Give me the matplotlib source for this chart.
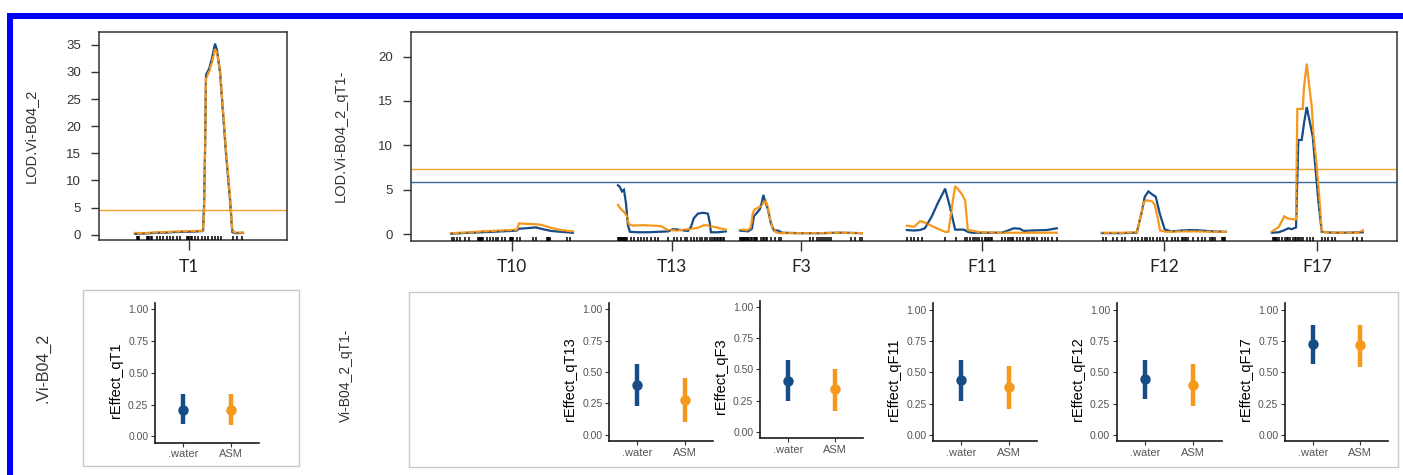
import matplotlib
matplotlib.use("Agg")
import matplotlib.pyplot as plt
from matplotlib.lines import Line2D
from matplotlib.patches import Rectangle
from matplotlib.transforms import blended_transform_factory

W, H = 1403, 475
plt.rcParams['font.family'] = ['Liberation Sans', 'DejaVu Sans']

BLUE = '#174d87'
ORANGE = '#f5981c'
BLUE_THR = '#3a6a98'
ORANGE_THR = '#f4a030'
FRAME = '#333333'

# ---------------- LOD scans (blue = .water, orange = ASM) ----------------
# Vi-B04_2, chromosome T1
t1_length = 108
t1_pos = [0, 10, 20, 30, 40, 50, 60, 68, 69, 70, 71, 74, 77, 80, 82, 85, 88, 91, 95, 97.3, 100, 108]
t1_lod_water = [0.2, 0.25, 0.35, 0.4, 0.5, 0.55, 0.6, 0.7, 5.0, 15.0, 29.5, 30.5, 32.5, 35.2, 34.0,
                30.0, 22.5, 15.0, 6.5, 0.5, 0.3, 0.35]
t1_lod_asm = [0.35, 0.3, 0.45, 0.5, 0.6, 0.65, 0.7, 0.75, 4.0, 15.0, 28.8, 30.0, 31.8, 34.2, 33.5,
              30.4, 23.0, 15.5, 7.0, 0.8, 0.4, 0.4]
t1_markers = [1.7, 2.5, 3.3, 4.3, 11.7, 13, 14.3, 15.5, 16.7, 21.7, 25, 28.3, 31.7, 35, 38.3, 41.7,
              45, 51.7, 53, 54.3, 55.5, 56.7, 60, 63.3, 66.7, 70, 73.3, 76.7, 80, 83.3, 85.7,
              98.3, 102.3, 106.7]
t1_threshold_asm = 4.6

# Vi-B04_2 given qT1, genome-wide scan
chroms = ['T10', 'T13', 'F3', 'F11', 'F12', 'F17']
chrom_len = [122, 108, 122, 150, 124, 91]

t10_pos_water = [0, 10, 20, 30, 40, 50, 60, 66, 68, 75, 85, 90, 100, 110, 122]
t10_lod_water = [0.05, 0.1, 0.15, 0.2, 0.25, 0.3, 0.35, 0.4, 0.6, 0.65, 0.75, 0.6, 0.35, 0.25, 0.15]
t10_pos_asm = [0, 10, 20, 30, 40, 50, 60, 66, 68, 75, 85, 90, 100, 110, 122]
t10_lod_asm = [0.1, 0.15, 0.2, 0.3, 0.35, 0.4, 0.45, 0.5, 1.2, 1.15, 1.1, 1.05, 0.7, 0.45, 0.3]
t10_markers = [1, 3.5, 6, 9, 14, 18.5, 27.5, 28.5, 29.5, 30.5, 31.5, 32.5, 36, 39, 42.5, 45, 47.5,
               51, 54, 59, 60, 61, 62.5, 66, 69, 82, 85, 96, 97, 98, 99, 116, 119]

t13_pos_water = [0, 2, 4, 6, 8, 10, 12, 20, 30, 40, 50, 55, 60, 70, 73, 76, 80, 85, 90, 92, 93, 100, 108]
t13_lod_water = [5.5, 5.3, 4.8, 5.0, 3.5, 1.0, 0.25, 0.2, 0.2, 0.25, 0.3, 0.55, 0.5, 0.35, 0.8,
                 1.8, 2.3, 2.4, 2.3, 1.2, 0.2, 0.2, 0.3]
t13_pos_asm = [0, 3, 6, 9, 11, 15, 25, 35, 43, 50, 60, 70, 80, 86, 91, 100, 108]
t13_lod_asm = [3.3, 2.8, 2.5, 2.0, 1.1, 0.95, 1.0, 0.95, 0.9, 0.45, 0.4, 0.55, 0.7, 1.0, 0.95, 0.7, 0.5]
t13_markers = [0, 1, 2, 3, 4, 5, 6, 7, 8, 9, 12.7, 16, 20, 22.7, 26, 28.7, 33.3, 36.7, 40, 50, 56,
               59.3, 62.7, 66.7, 69.3, 72.7, 76, 79.3, 82, 84.3, 86.7, 89.3, 92, 94.5, 96, 97.5,
               99, 100.5, 102, 103.5, 105, 106.5]

f3_pos_water = [0, 4, 8, 12, 14, 17, 20, 22, 23.5, 25, 28, 31, 34, 38, 42, 60, 80, 100, 122]
f3_lod_water = [0.4, 0.35, 0.3, 0.6, 2.0, 2.4, 2.8, 3.6, 4.4, 3.8, 2.8, 1.2, 0.4, 0.4, 0.15, 0.1,
                0.1, 0.15, 0.1]
f3_pos_asm = [0, 4, 8, 11, 13, 15, 19, 22, 24, 25.7, 27.5, 30, 33, 36, 40, 60, 80, 100, 122]
f3_lod_asm = [0.45, 0.5, 0.4, 0.8, 2.4, 2.8, 3.0, 3.3, 3.6, 3.8, 3.2, 1.8, 0.6, 0.2, 0.1, 0.1, 0.1,
              0.15, 0.1]
f3_markers = [0, 1, 2, 3, 4, 5, 6, 7, 8, 9, 10.7, 12.4, 14, 15, 16, 17.4, 20.7, 23.4, 24.5, 25.7,
              27.4, 30.7, 34.7, 39, 41.4, 70.6, 73, 77.3, 79.5, 81, 83, 85, 87, 89, 90.7, 111,
              115.4, 120, 122]

f11_pos_water = [0, 7, 13, 18, 25, 31, 38.3, 43, 48.3, 57, 61, 65, 80, 95, 100, 107, 113, 117, 125,
                 140, 150]
f11_lod_water = [0.45, 0.4, 0.45, 0.65, 2.0, 3.5, 5.1, 3.1, 0.5, 0.5, 0.25, 0.15, 0.15, 0.15, 0.35,
                 0.65, 0.6, 0.35, 0.4, 0.45, 0.65]
f11_pos_asm = [0, 7, 13.3, 18, 27, 33, 38.3, 41.6, 45, 48.3, 51.6, 55, 58.3, 61, 67, 73, 90, 120, 150]
f11_lod_asm = [0.95, 0.8, 1.45, 1.3, 0.8, 0.5, 0.25, 0.25, 3.0, 5.4, 5.0, 4.5, 3.8, 0.45, 0.35, 0.2,
               0.15, 0.15, 0.15]
f11_markers = [0.6, 4, 7.6, 11.6, 15.6, 38.3, 49.3, 58.3, 60.6, 63.3, 66, 68.3, 70, 72.3, 75, 78.3,
               79.5, 81, 82.5, 84, 85, 95, 98.3, 101.6, 103.3, 105, 106.6, 110, 113.3, 116.6, 120,
               122.3, 125, 127.3, 130, 135, 138.3, 141.6, 145, 150]

f12_pos_water = [0, 20, 35, 40, 43, 46.6, 50, 54, 58, 63, 70, 80, 90, 100, 110, 124]
f12_lod_water = [0.1, 0.1, 0.15, 2.5, 4.2, 4.8, 4.5, 4.2, 2.3, 0.5, 0.3, 0.4, 0.45, 0.4, 0.3, 0.25]
f12_pos_asm = [0, 20, 35, 40, 42, 45, 50, 53, 56, 58.3, 65, 80, 95, 110, 124]
f12_lod_asm = [0.15, 0.15, 0.2, 2.5, 3.6, 3.8, 3.7, 3.3, 1.8, 0.4, 0.25, 0.3, 0.3, 0.25, 0.25]
f12_markers = [1, 4.3, 11.6, 15, 20, 23.3, 30, 33.3, 36.6, 40, 43.3, 45, 48.3, 51.6, 55, 58.3, 61.6,
               65, 70, 73.3, 76.6, 80, 81.5, 83, 84.5, 86.6, 91.6, 96.6, 100, 103.3, 108.3, 110,
               111.6, 113.3, 120, 121, 122.2, 123.3]

f17_pos_water = [0, 7, 13, 16.6, 20, 24.3, 26.6, 30, 32.3, 35, 38.3, 41, 43.3, 46.6, 50, 60, 75, 91]
f17_lod_water = [0.15, 0.2, 0.45, 0.65, 0.55, 0.75, 10.6, 10.6, 12.5, 14.3, 12.5, 11.0, 8.0, 3.8,
                 0.25, 0.15, 0.15, 0.2]
f17_pos_asm = [0, 7, 12.6, 16, 20, 24.3, 25.6, 31, 32.3, 35, 37.6, 40, 41.6, 45, 48, 50, 60, 75, 88, 91]
f17_lod_asm = [0.25, 0.8, 2.0, 1.75, 1.7, 1.6, 14.1, 14.1, 16.6, 19.2, 16.6, 14.4, 11.4, 7.6, 3.5,
               0.25, 0.15, 0.15, 0.15, 0.45]
f17_markers = [1, 2, 3, 4, 5, 7.6, 10, 13.3, 15, 16.6, 18.3, 21.6, 23, 24.5, 26, 27.5, 29, 31.6, 35,
               38.3, 41.6, 50, 53.3, 56.6, 60, 63.3, 81.6, 85.6, 90]

threshold_water = 5.83
threshold_asm = 7.33

# ---------------- effect estimates ----------------
effect_names = ['qT1', 'qT13', 'qF3', 'qF11', 'qF12', 'qF17']
treatments = ['.water', 'ASM']
water_est = [0.21, 0.40, 0.41, 0.44, 0.45, 0.73]
water_lo = [0.10, 0.23, 0.25, 0.27, 0.29, 0.57]
water_hi = [0.33, 0.565, 0.575, 0.60, 0.60, 0.875]
asm_est = [0.21, 0.275, 0.345, 0.385, 0.40, 0.72]
asm_lo = [0.09, 0.10, 0.17, 0.21, 0.23, 0.545]
asm_hi = [0.33, 0.45, 0.50, 0.55, 0.565, 0.875]

scans = [
    (t10_pos_water, t10_lod_water, t10_pos_asm, t10_lod_asm, t10_markers),
    (t13_pos_water, t13_lod_water, t13_pos_asm, t13_lod_asm, t13_markers),
    (f3_pos_water, f3_lod_water, f3_pos_asm, f3_lod_asm, f3_markers),
    (f11_pos_water, f11_lod_water, f11_pos_asm, f11_lod_asm, f11_markers),
    (f12_pos_water, f12_lod_water, f12_pos_asm, f12_lod_asm, f12_markers),
    (f17_pos_water, f17_lod_water, f17_pos_asm, f17_lod_asm, f17_markers),
]

# ---------------- figure ----------------
fig = plt.figure(figsize=(W / 100, H / 100), dpi=100)


def px_axes(x0, y0, x1, y1):
    return fig.add_axes([x0 / W, 1 - y1 / H, (x1 - x0) / W, (y1 - y0) / H])


def style_scan_axes(ax):
    for sp in ax.spines.values():
        sp.set_color(FRAME)
        sp.set_linewidth(1.1)
    ax.tick_params(axis='y', direction='out', length=6, width=1, pad=7,
                   labelsize=9.5, colors=FRAME)
    ax.tick_params(axis='x', direction='out', length=7, width=1, pad=6, colors=FRAME)
    for lbl in ax.get_xticklabels():
        lbl.set_fontfamily(['Lato', 'DejaVu Sans'])
        lbl.set_fontsize(12.5)
        lbl.set_color('#222222')


def draw_curves(ax, xw, yw, xa, ya):
    ax.plot(xw, yw, color=BLUE, lw=1.6, solid_joinstyle='miter', zorder=3)
    ax.plot(xa, ya, color=ORANGE, lw=1.6, solid_joinstyle='miter', zorder=4)
    ax.plot(xw, yw, color=BLUE, lw=1.0, dashes=(1.5, 4), alpha=0.85, zorder=5)


def draw_rug(ax, xs):
    tr = blended_transform_factory(ax.transData, ax.transAxes)
    ax.vlines(xs, 0.0, 0.02, transform=tr, color='black', lw=1.1, zorder=6)


# --- top left: T1 scan ---
ax1 = px_axes(99, 31.7, 286.7, 240.5)
draw_curves(ax1, t1_pos, t1_lod_water, t1_pos, t1_lod_asm)
draw_rug(ax1, t1_markers)
ax1.axhline(t1_threshold_asm, color=ORANGE_THR, lw=1.0, zorder=2)
ax1.set_xlim(-36, 151.7)
ax1.set_ylim(-1.05, 37.4)
ax1.set_yticks(range(0, 36, 5))
ax1.set_xticks([t1_length / 2])
ax1.set_xticklabels(['T1'])
ax1.set_ylabel('LOD.Vi-B04_2', fontsize=10.5, color=FRAME)
ax1.yaxis.set_label_coords((38 - 99) / 187.7, 0.5)
style_scan_axes(ax1)

# --- top right: conditional genome scan ---
ax2 = px_axes(411, 31.7, 1396.7, 240.7)
lead_gap, gaps, tail_gap = 40, [45, 14, 45, 45, 46], 34
starts = []
cur = lead_gap
for i, L in enumerate(chrom_len):
    starts.append(cur)
    cur += L + (gaps[i] if i < len(gaps) else tail_gap)
total = cur
for s, (xw, yw, xa, ya, mk) in zip(starts, scans):
    draw_curves(ax2, [s + p for p in xw], yw, [s + p for p in xa], ya)
    draw_rug(ax2, [s + m for m in mk])
ax2.axhline(threshold_asm, color=ORANGE_THR, lw=1.0, zorder=2)
ax2.axhline(threshold_water, color=BLUE_THR, lw=1.0, zorder=2)
ax2.set_xlim(0, total)
ax2.set_ylim(-0.75, 22.8)
ax2.set_yticks(range(0, 21, 5))
ax2.set_xticks([s + L / 2 for s, L in zip(starts, chrom_len)])
ax2.set_xticklabels(chroms)
ax2.set_ylabel('LOD.Vi-B04_2_qT1-', fontsize=10.5, color=FRAME)
ax2.yaxis.set_label_coords((348 - 411) / 985.7, 0.5)
style_scan_axes(ax2)

# --- bottom: boxes and row labels ---
for (x0, y0, x1, y1) in [(82.7, 290, 299, 466), (409.3, 291.7, 1397.7, 467)]:
    fig.add_artist(Rectangle((x0 / W, 1 - y1 / H), (x1 - x0) / W, (y1 - y0) / H,
                             transform=fig.transFigure, fill=False,
                             edgecolor='#c8c8c8', lw=1.0))
fig.text(43 / W, 1 - 368 / H, '.Vi-B04_2', rotation=90, ha='center', va='center',
         fontsize=11.5, color=FRAME)
fig.text(346 / W, 1 - 375 / H, 'Vi-B04_2_qT1-', rotation=90, ha='center', va='center',
         fontsize=10, color=FRAME)

small_boxes = [(155, 303, 259, 442.7), (609.3, 303, 712.7, 441), (760, 300.5, 863.3, 438.3),
               (933.3, 303.5, 1036.7, 441.3), (1116.7, 303.5, 1221.7, 441.3),
               (1285, 303.5, 1388.3, 441.3)]

for i, (x0, y0, x1, y1) in enumerate(small_boxes):
    ax = px_axes(x0, y0, x1, y1)
    ax.vlines(1, water_lo[i], water_hi[i], color=BLUE, lw=3.2)
    ax.vlines(2, asm_lo[i], asm_hi[i], color=ORANGE, lw=3.2)
    ax.plot([1], [water_est[i]], 'o', color=BLUE, ms=6.5)
    ax.plot([2], [asm_est[i]], 'o', color=ORANGE, ms=6.5)
    ax.set_xlim(0.4, 2.6)
    ax.set_ylim(-0.05, 1.05)
    ax.set_xticks([1, 2])
    ax.set_xticklabels(treatments)
    ax.set_yticks([0, 0.25, 0.5, 0.75, 1.0])
    ax.set_yticklabels(['%.2f' % v for v in [0, 0.25, 0.5, 0.75, 1.0]])
    for side in ['top', 'right']:
        ax.spines[side].set_visible(False)
    for side in ['left', 'bottom']:
        ax.spines[side].set_color('#1a1a1a')
        ax.spines[side].set_linewidth(1.2)
    ax.tick_params(axis='both', length=2.8, width=0.8, color='#333333',
                   labelcolor='#555555', pad=2)
    ax.tick_params(axis='y', labelsize=7.5)
    ax.tick_params(axis='x', labelsize=8)
    ax.set_ylabel('rEffect_' + effect_names[i], fontsize=10.5, color='black')
    ax.yaxis.set_label_coords(-32 / (x1 - x0), 0.45)
    ax.patch.set_alpha(0)

# --- outer blue frame ---
lw_frame = 6 * 72 / 100
fig.add_artist(Line2D([7 / W, 1.0], [1 - 16 / H, 1 - 16 / H], transform=fig.transFigure,
                      color='#0000ff', lw=lw_frame, solid_capstyle='butt'))
fig.add_artist(Line2D([10 / W, 10 / W], [0.0, 1 - 13 / H], transform=fig.transFigure,
                      color='#0000ff', lw=lw_frame, solid_capstyle='butt'))

fig.savefig('out.png', dpi=100)
